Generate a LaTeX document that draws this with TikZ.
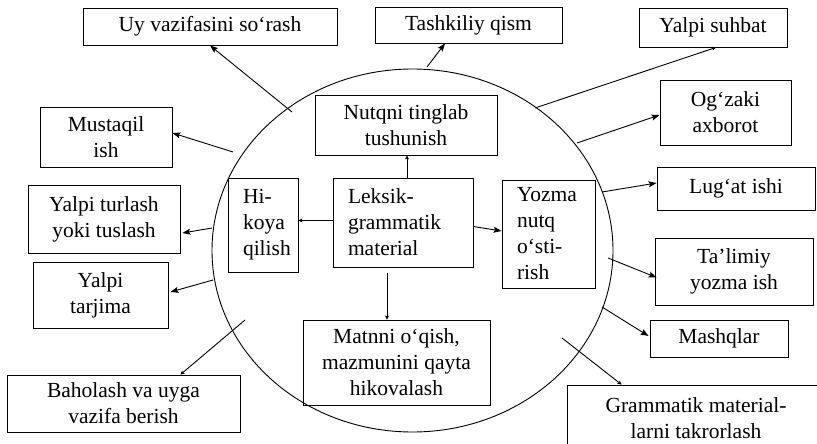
\documentclass[tikz,border=0pt]{standalone}
\usepackage{fontspec}
\setmainfont{Liberation Serif}
\usetikzlibrary{arrows.meta,calc}
\begin{document}
\begin{tikzpicture}[x=1pt,y=-1pt,
  box/.style={draw, line width=0.9pt, inner sep=0pt, align=center,
    font=\fontsize{21.5}{26}\selectfont},
  lbox/.style={box, align=left, inner xsep=15pt},
  arr/.style={line width=0.9pt, -{Stealth[length=8pt,width=6pt,inset=1.5pt]}},
  sarr/.style={line width=0.9pt, -{Stealth[length=4pt,width=4pt,inset=1pt]}},
  ring/.style={line width=0.9pt}]
\useasboundingbox (0,0) rectangle (817,444);
\fill[white] (0,0) rectangle (817,444);
\clip (0,0) rectangle (817,444);

% central ring
\draw[ring] (412.5,250.5) ellipse [x radius=200.5pt, y radius=181.5pt];

% outer boxes
\node[box, minimum width=254pt, minimum height=37pt] (uy) at (210,26.5) {Uy vazifasini so‘rash};
\node[box, minimum width=187pt, minimum height=36pt] (tash) at (468.5,25) {Tashkiliy qism};
\node[box, minimum width=148pt, minimum height=39pt] (suhbat) at (713,27.5) {Yalpi suhbat};
\node[box, minimum width=131pt, minimum height=65pt] (ogzaki) at (725.5,112.5) {Og‘zaki\\axborot};
\node[box, minimum width=158pt, minimum height=43pt] (lugat) at (736,188.5) {Lug‘at ishi};
\node[box, minimum width=158pt, minimum height=67pt] (talimiy) at (734,271.5) {Ta’limiy\\yozma ish};
\node[box, minimum width=138pt, minimum height=37pt] (mashq) at (719,338.5) {Mashqlar};
\node[box, minimum width=258pt, minimum height=67pt] (gram) at (696,418.5) {Grammatik material-\\larni takrorlash};
\node[box, minimum width=132pt, minimum height=60pt] (must) at (106,137) {Mustaqil\\ish};
\node[box, minimum width=152pt, minimum height=68pt] (turlash) at (104,219) {Yalpi turlash\\yoki tuslash};
\node[box, minimum width=135pt, minimum height=66pt] (tarjima) at (100.5,295) {Yalpi\\tarjima};
\node[box, minimum width=233pt, minimum height=57pt] (baho) at (123.5,403.5) {Baholash va uyga\\vazifa berish};

% inner boxes
\node[lbox, text width=40pt, minimum height=94pt] (hikoya) at (263,225) {Hi-\\koya\\qilish};
\node[lbox, text width=110pt, minimum height=89pt] (leksik) at (403,222.5) {Leksik-\\grammatik\\material};
\node[box, minimum width=182pt, minimum height=60pt] (nutq) at (406,125) {Nutqni tinglab\\tushunish};
\node[lbox, text width=63pt, minimum height=108pt] (yozma) at (548.5,234) {Yozma\\nutq\\o‘sti-\\rish};
\node[box, minimum width=187pt, minimum height=85pt] (matn) at (396.5,362.5) {Matnni o‘qish,\\mazmunini qayta\\hikovalash};

% start points on the ring
\coordinate (sUy) at (292,112);
\coordinate (sTash) at (427,67);
\coordinate (sSuhbat) at (535,108);
\coordinate (sOgz) at (577,143);
\coordinate (sLug) at (602,192);
\coordinate (sTal) at (608,258);
\coordinate (sMash) at (602,307);
\coordinate (sGram) at (562,338);
\coordinate (sBaho) at (245,320);
\coordinate (sTarj) at (213,280);
\coordinate (sTurl) at (212,228);
\coordinate (sMust) at (233,152);

% connectors from the ring
\draw[arr] (sUy) -- (uy.south);
\draw[arr] (sTash) -- ($(tash.south)+(-23.5,0)$);
\draw[sarr] (sSuhbat) -- ($(suhbat.south)+(3,0)$);
\draw[arr] (sOgz) -- ($(ogzaki.west)+(0,2.5)$);
\draw[arr] (sLug) -- ($(lugat.west)+(0,-5.5)$);
\draw[arr] (sTal) -- ($(talimiy.west)+(2,6)$);
\draw[arr] (sMash) -- ($(mashq.west)+(-1,-2.5)$);
\draw[sarr] (sGram) -- ($(gram.north west)+(55,0)$);
\draw[sarr] (sBaho) -- ($(baho.north east)+(-60,0)$);
\draw[arr] (sTarj) -- ($(tarjima.east)+(2,-3)$);
\draw[arr] (sTurl) -- ($(turlash.east)+(2,14)$);
\draw[arr] (sMust) -- ($(must.east)+(0,-4)$);

% connectors from the centre box
\draw[sarr] ($(leksik.west)+(0,-2)$) -- ($(hikoya.east)+(0,-4.5)$);
\draw[sarr] ($(leksik.north)+(4,0)$) -- ($(nutq.south)+(1,0)$);
\draw[arr] ($(leksik.east)+(0,4)$) -- ($(yozma.west)+(0,-3)$);
\draw[sarr] ($(leksik.south)+(-16,6)$) -- ($(matn.north)+(-9.5,0)$);
\end{tikzpicture}
\end{document}
